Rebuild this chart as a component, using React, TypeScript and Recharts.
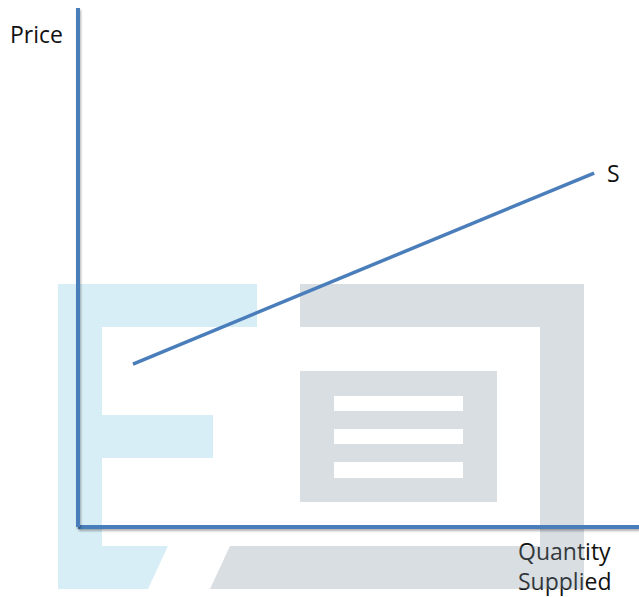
import React from 'react';
import { LineChart, Line, XAxis, YAxis, Customized } from 'recharts';

const quantitySupplied = [9.8, 92.0];
const prices = [31.4, 68.2];
const curveLabel = 'S';
const yAxisTitle = 'Price';
const xAxisTitle = ['Quantity', 'Supplied'];

const data = quantitySupplied.map((q, i) => ({ q, p: prices[i] }));

const BLUE = '#4a7ebb';
const FONT = '"Open Sans", sans-serif';

const Watermark = () => {
  const blue = 'rgba(125,198,225,0.3)';
  const gray = 'rgba(128,145,158,0.3)';
  return (
    <g pointerEvents="none">
      <path
        fill={blue}
        d="M58,284 H257 V327 H102 V415 H213 V458 H102 V546 H168 L148,589 H58 Z"
      />
      <path
        fill={gray}
        d="M300,284 H584 V589 H210 L230,546 H540 V327 H300 Z"
      />
      <path
        fill={gray}
        fillRule="evenodd"
        d="M300,371 H497 V502 H300 Z M334,396 H463 V411 H334 Z M334,429 H463 V444 H334 Z M334,462 H463 V478 H334 Z"
      />
    </g>
  );
};

const Titles = () => (
  <g fontFamily={FONT} fontSize={23} fill="#111">
    <text x={10} y={43}>{yAxisTitle}</text>
    <text x={518} y={560}>{xAxisTitle[0]}</text>
    <text x={518} y={590}>{xAxisTitle[1]}</text>
  </g>
);

const renderLabel = (props: any) => {
  const { x, y, index } = props;
  if (index !== data.length - 1) return null;
  return (
    <text x={x + 13} y={y + 9} fontFamily={FONT} fontSize={23} fill="#111">
      {curveLabel}
    </text>
  );
};

const axisStyle = {
  stroke: BLUE,
  strokeWidth: 4,
  style: { filter: 'drop-shadow(1px 2px 1px rgba(0,0,0,0.3))' },
};

export default function App() {
  return (
    <div style={{ position: 'absolute', left: 0, top: 0 }}>
      <LineChart
        width={639}
        height={597}
        data={data}
        margin={{ top: 8, left: 68, right: 0, bottom: 60 }}
      >
        <XAxis
          type="number"
          dataKey="q"
          domain={[0, 100]}
          height={10}
          tick={false}
          tickLine={false}
          axisLine={axisStyle}
        />
        <YAxis
          type="number"
          dataKey="p"
          domain={[0, 100]}
          width={10}
          tick={false}
          tickLine={false}
          axisLine={axisStyle}
        />
        <Line
          type="linear"
          dataKey="p"
          stroke={BLUE}
          strokeWidth={3.5}
          dot={false}
          activeDot={false}
          isAnimationActive={false}
          label={renderLabel}
        />
        <Customized component={<Titles />} />
        <Customized component={<Watermark />} />
      </LineChart>
    </div>
  );
}
